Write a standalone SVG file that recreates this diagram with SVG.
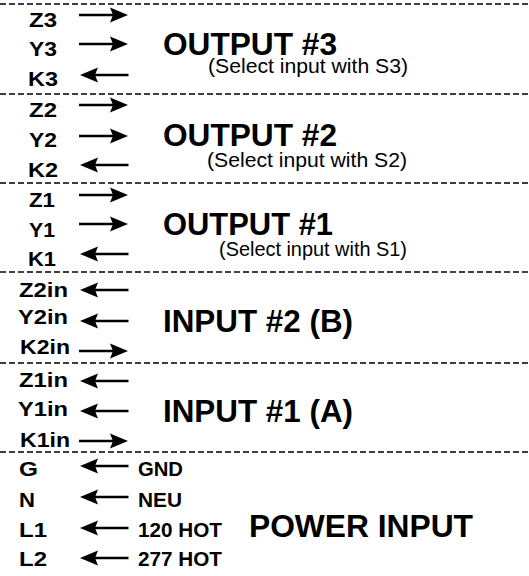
<svg xmlns="http://www.w3.org/2000/svg" width="529" height="576" viewBox="0 0 529 576">
<defs>
<style>
.lbl{font-family:"Liberation Sans",Arial,sans-serif;font-weight:bold;font-size:20.5px;fill:#000}
.ttl{font-family:"Liberation Sans",Arial,sans-serif;font-weight:bold;font-size:31px;fill:#000}
.sub{font-family:"Liberation Sans",Arial,sans-serif;font-size:20px;fill:#000}
.sep{stroke:#000;stroke-width:1.6;stroke-dasharray:6,3;fill:none}
</style>
<g id="ra"><line x1="79" y1="0" x2="114" y2="0" stroke="#000" stroke-width="2.4"/><path d="M128,0 L110,-7.5 L113,0 L110,7.5 Z" fill="#000"/></g>
<g id="la"><line x1="94" y1="0" x2="128.5" y2="0" stroke="#000" stroke-width="2.4"/><path d="M80,0 L98,-7.5 L95,0 L98,7.5 Z" fill="#000"/></g>
</defs>
<rect width="529" height="576" fill="#fff"/>

<g id="separators">
<line class="sep" x1="0" y1="4" x2="529" y2="4"/>
<line class="sep" x1="0" y1="94" x2="529" y2="94"/>
<line class="sep" x1="0" y1="183" x2="529" y2="183"/>
<line class="sep" x1="0" y1="272" x2="529" y2="272"/>
<line class="sep" x1="0" y1="363" x2="529" y2="363"/>
<line class="sep" x1="0" y1="452" x2="529" y2="452"/>
</g>

<g id="connectors">
<use href="#ra" y="15"/>
<use href="#ra" y="44"/>
<use href="#la" y="75"/>
<use href="#ra" y="105"/>
<use href="#ra" y="136"/>
<use href="#la" y="165"/>
<use href="#ra" y="195"/>
<use href="#ra" y="224"/>
<use href="#la" y="254"/>
<use href="#la" y="290"/>
<use href="#la" y="321"/>
<use href="#ra" y="351"/>
<use href="#la" y="381"/>
<use href="#la" y="411"/>
<use href="#ra" y="441"/>
<use href="#la" y="466"/>
<use href="#la" y="497"/>
<use href="#la" y="528"/>
<use href="#la" y="558"/>
</g>

<g id="output3">
<text class="lbl" x="29" y="27" textLength="28" lengthAdjust="spacingAndGlyphs">Z3</text>
<text class="lbl" x="29" y="56" textLength="28" lengthAdjust="spacingAndGlyphs">Y3</text>
<text class="lbl" x="28" y="86" textLength="30" lengthAdjust="spacingAndGlyphs">K3</text>
<text class="ttl" x="163" y="55" textLength="174" lengthAdjust="spacingAndGlyphs">OUTPUT #3</text>
<text class="sub" x="208" y="73" textLength="200" lengthAdjust="spacingAndGlyphs">(Select input with S3)</text>
</g>

<g id="output2">
<text class="lbl" x="29" y="117" textLength="28" lengthAdjust="spacingAndGlyphs">Z2</text>
<text class="lbl" x="29" y="147" textLength="28" lengthAdjust="spacingAndGlyphs">Y2</text>
<text class="lbl" x="28" y="177" textLength="30" lengthAdjust="spacingAndGlyphs">K2</text>
<text class="ttl" x="163" y="146" textLength="174" lengthAdjust="spacingAndGlyphs">OUTPUT #2</text>
<text class="sub" x="207" y="167" textLength="200" lengthAdjust="spacingAndGlyphs">(Select input with S2)</text>
</g>

<g id="output1">
<text class="lbl" x="29" y="207" textLength="26" lengthAdjust="spacingAndGlyphs">Z1</text>
<text class="lbl" x="29" y="237" textLength="26" lengthAdjust="spacingAndGlyphs">Y1</text>
<text class="lbl" x="28" y="266" textLength="28" lengthAdjust="spacingAndGlyphs">K1</text>
<text class="ttl" x="163" y="235" textLength="170" lengthAdjust="spacingAndGlyphs">OUTPUT #1</text>
<text class="sub" x="219" y="256" textLength="188" lengthAdjust="spacingAndGlyphs">(Select input with S1)</text>
</g>

<g id="input2">
<text class="lbl" x="19" y="297" textLength="49" lengthAdjust="spacingAndGlyphs">Z2in</text>
<text class="lbl" x="18" y="324" textLength="50" lengthAdjust="spacingAndGlyphs">Y2in</text>
<text class="lbl" x="20" y="354" textLength="50" lengthAdjust="spacingAndGlyphs">K2in</text>
<text class="ttl" x="163" y="332" textLength="190" lengthAdjust="spacingAndGlyphs">INPUT #2 (B)</text>
</g>

<g id="input1">
<text class="lbl" x="19" y="387" textLength="49" lengthAdjust="spacingAndGlyphs">Z1in</text>
<text class="lbl" x="18" y="416" textLength="50" lengthAdjust="spacingAndGlyphs">Y1in</text>
<text class="lbl" x="20" y="447" textLength="50" lengthAdjust="spacingAndGlyphs">K1in</text>
<text class="ttl" x="163" y="422" textLength="190" lengthAdjust="spacingAndGlyphs">INPUT #1 (A)</text>
</g>

<g id="power">
<text class="lbl" x="19" y="476" textLength="19" lengthAdjust="spacingAndGlyphs">G</text>
<text class="lbl" x="19" y="507" textLength="16" lengthAdjust="spacingAndGlyphs">N</text>
<text class="lbl" x="19" y="537" textLength="28" lengthAdjust="spacingAndGlyphs">L1</text>
<text class="lbl" x="19" y="566" textLength="28" lengthAdjust="spacingAndGlyphs">L2</text>
<text class="lbl" x="138" y="476" textLength="45" lengthAdjust="spacingAndGlyphs">GND</text>
<text class="lbl" x="138" y="507" textLength="44" lengthAdjust="spacingAndGlyphs">NEU</text>
<text class="lbl" x="138" y="537" textLength="84" lengthAdjust="spacingAndGlyphs">120 HOT</text>
<text class="lbl" x="138" y="566" textLength="84" lengthAdjust="spacingAndGlyphs">277 HOT</text>
<text class="ttl" x="249" y="537" textLength="224" lengthAdjust="spacingAndGlyphs">POWER INPUT</text>
</g>
</svg>
